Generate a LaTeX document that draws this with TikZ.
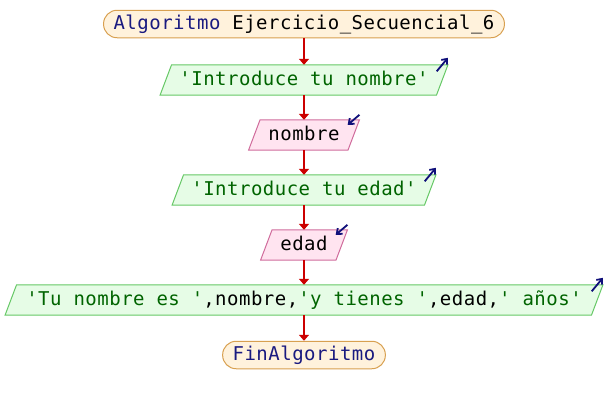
\documentclass[tikz,border=0pt]{standalone}
\usepackage{fontspec}
\newfontfamily\codefont[LetterSpace=2.6]{DejaVu Sans Mono}
\usetikzlibrary{arrows.meta,backgrounds}

\definecolor{termfill}{HTML}{FFF2DC}
\definecolor{termdraw}{HTML}{D8A050}
\definecolor{outfill}{HTML}{E6FCE6}
\definecolor{outdraw}{HTML}{66C866}
\definecolor{infill}{HTML}{FFE4F0}
\definecolor{indraw}{HTML}{D06C9C}
\definecolor{flowred}{HTML}{CC0000}
\definecolor{kwblue}{HTML}{1A1A80}
\definecolor{strgreen}{HTML}{006400}
\definecolor{iconblue}{HTML}{10107A}

\tikzset{
  code/.style={font={\codefont\fontsize{19pt}{23pt}\selectfont}},
  terminal/.style={code, draw=termdraw, fill=termfill, line width=1pt,
    rounded corners=13.5pt, minimum height=27.5pt, inner xsep=10pt, inner ysep=0pt,
    text height=14.5pt, text depth=4pt},
  iobox/.style={code, minimum height=30pt, inner sep=0pt,
    text height=14.5pt, text depth=4pt},
  outshape/.style={draw=outdraw, fill=outfill, line width=1pt},
  inshape/.style={draw=indraw, fill=infill, line width=1pt},
  flow/.style={draw=flowred, line width=2pt, -{Triangle[length=6pt,width=10pt]}},
  ioicon/.style={draw=iconblue, line width=1.8pt, -{Straight Barb[length=4.5pt,width=7.5pt]}}
}

% slanted input/output frame behind a node
\newcommand\slantframe[2]{%
  \begin{scope}[on background layer]
    \path[#2] ([xshift=5.75pt]#1.north west) -- ([xshift=5.75pt]#1.north east)
      -- ([xshift=-5.75pt]#1.south east) -- ([xshift=-5.75pt]#1.south west) -- cycle;
  \end{scope}}

\begin{document}
\begin{tikzpicture}[x=1pt,y=-1pt]
\useasboundingbox (0,0) rectangle (608,405);

\node[terminal] (start) at (304,24)
  {\textcolor{kwblue}{Algoritmo} Ejercicio\_Secuencial\_6};

\node[iobox, minimum width=276pt] (o1) at (304,80)
  {\textcolor{strgreen}{'Introduce tu nombre'}};
\slantframe{o1}{outshape}

\node[iobox, minimum width=99pt] (i1) at (304,135) {nombre};
\slantframe{i1}{inshape}

\node[iobox, minimum width=252pt] (o2) at (304,190)
  {\textcolor{strgreen}{'Introduce tu edad'}};
\slantframe{o2}{outshape}

\node[iobox, minimum width=75pt] (i2) at (304,245) {edad};
\slantframe{i2}{inshape}

\node[iobox, minimum width=586pt] (o3) at (304,300)
  {\textcolor{strgreen}{'Tu nombre es '},nombre,\textcolor{strgreen}{'y tienes '},edad,\textcolor{strgreen}{' años'}};
\slantframe{o3}{outshape}

\node[terminal] (stop) at (304,355) {\textcolor{kwblue}{FinAlgoritmo}};

% flow connectors
\draw[flow] (start) -- (o1);
\draw[flow] (o1) -- (i1);
\draw[flow] (i1) -- (o2);
\draw[flow] (o2) -- (i2);
\draw[flow] (i2) -- (o3);
\draw[flow] (o3) -- (stop);

% output / input markers at the upper right corners
\foreach \n in {o1,o2,o3}{
  \coordinate (\n-tip) at ([xshift=5.75pt,yshift=7pt]\n.north east);
  \coordinate (\n-tail) at ([xshift=-5.5pt,yshift=-6.5pt]\n.north east);
  \draw[ioicon] (\n-tail) -- (\n-tip);
}
\foreach \n in {i1,i2}{
  \coordinate (\n-tail) at ([xshift=5.75pt,yshift=5pt]\n.north east);
  \coordinate (\n-tip) at ([xshift=-6pt,yshift=-5pt]\n.north east);
  \draw[ioicon] (\n-tail) -- (\n-tip);
}
\end{tikzpicture}
\end{document}
